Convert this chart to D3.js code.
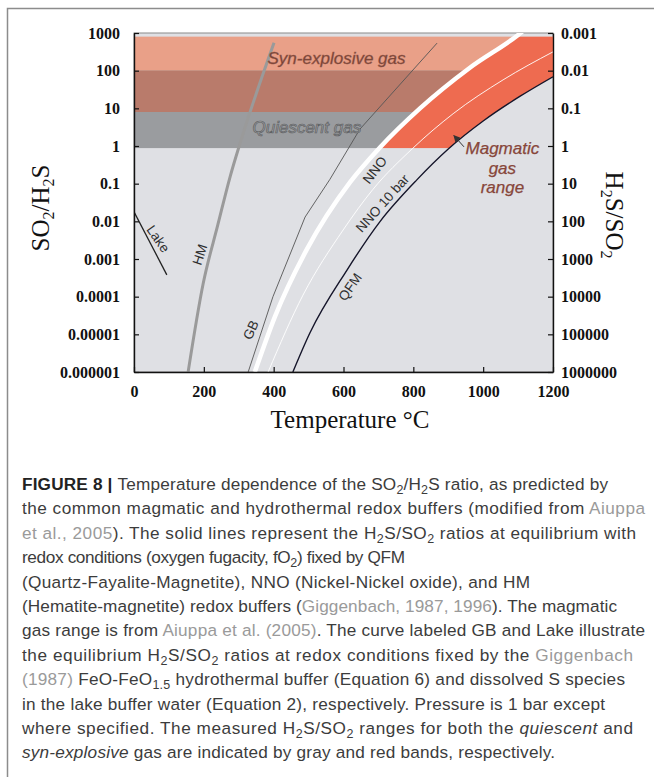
<!DOCTYPE html>
<html>
<head>
<meta charset="utf-8">
<script src="https://cdn.jsdelivr.net/npm/d3@7"></script>
<style>
  body { margin: 0; background: #fff; }
  svg { display: block; }
</style>
</head>
<body>
<div id="chart"></div>
<script>
// ---- data (T in °C, SO2/H2S ratio) ----
const xTicks = [0, 200, 400, 600, 800, 1000, 1200];
const yTicks = [1e-6, 1e-5, 1e-4, 1e-3, 1e-2, 0.1, 1, 10, 100, 1000];
const leftLabels = ["0.000001", "0.00001", "0.0001", "0.001", "0.01", "0.1", "1", "10", "100", "1000"];
const rightLabels = ["1000000", "100000", "10000", "1000", "100", "10", "1", "0.1", "0.01", "0.001"];

const hmCurve = [[155, 1e-6], [198, 2.2e-4], [240, 8e-3], [275, 0.15], [304, 1.2], [401, 550]];
const lakeCurve = [[0, 0.018], [94, 0.00038]];
const gbCurve = [[327, 1e-6], [398, 1e-4], [490, 0.013], [561, 0.13], [647, 2.8], [868, 540]];
const nnoCurve = [[346, 1e-6], [404, 3e-5], [495, 1.8e-3], [619, 0.11], [705, 0.93], [819, 10], [962, 120], [1100, 890], [1130, 1500]];
const nno10Curve = [[384, 1e-6], [484, 1.1e-4], [599, 5.9e-3], [684, 0.07], [799, 0.88], [914, 7.2], [1057, 57], [1200, 316]];
const qfmCurve = [[455, 1e-6], [504, 1.1e-5], [610, 5.1e-4], [705, 0.01], [810, 0.126], [900, 0.83], [1000, 4.6], [1106, 21], [1200, 69]];

const synBand = [8, 800];          // red band
const quiescentBand = [0.88, 100]; // gray band
const magmaticRange = [0.88, 800];

const curveLabels = [
  {text: "NNO", T: 690, r: 0.23, angle: -52},
  {text: "NNO 10 bar", T: 712, r: 0.03, angle: -48},
  {text: "QFM", T: 619, r: 1.8e-4, angle: -55},
  {text: "GB", T: 335, r: 1.3e-5, angle: -65},
  {text: "HM", T: 189, r: 1.3e-3, angle: -72},
  {text: "Lake", T: 69, r: 3.4e-3, angle: 55}
];

const W = 654, H = 777;
const svg = d3.select("#chart").append("svg").attr("width", W).attr("height", H);

// outer frame
svg.append("path")
  .attr("d", "M7.5,777 L7.5,8.5 L654,8.5")
  .attr("fill", "none").attr("stroke", "#8c8c8c").attr("stroke-width", 1.5);

const x = d3.scaleLinear().domain([0, 1200]).range([134, 553]);
const y = d3.scaleLog().domain([1e-6, 1000]).range([372, 33]);
const x0 = x.range()[0], x1 = x.range()[1], yb = y.range()[0], yt = y.range()[1];

const line = d3.line().x(d => x(d[0])).y(d => y(d[1])).curve(d3.curveMonotoneX);
const polyline = d3.line().x(d => x(d[0])).y(d => y(d[1]));

const defs = svg.append("defs");
defs.append("clipPath").attr("id", "plot")
  .append("rect").attr("x", x0).attr("y", yt).attr("width", x1 - x0).attr("height", yb - yt);
// left of NNO
defs.append("clipPath").attr("id", "leftNNO")
  .append("path").attr("d", line(nnoCurve) + `L${x0 - 20},${yt - 20}L${x0 - 20},${yb + 20}Z`);
// right of NNO
defs.append("clipPath").attr("id", "rightNNO")
  .append("path").attr("d", line(nnoCurve) + `L${x1 + 20},${yt - 20}L${x1 + 20},${yb + 20}Z`);
// above QFM
const qLast = qfmCurve[qfmCurve.length - 1];
defs.append("clipPath").attr("id", "aboveQFM")
  .append("path").attr("d", line(qfmCurve) + `L${x1 + 20},${y(qLast[1])}L${x1 + 20},${yt - 20}L${x0 - 20},${yt - 20}L${x0 - 20},${yb + 20}Z`);

// plot background
svg.append("rect")
  .attr("x", x0).attr("y", yt).attr("width", x1 - x0).attr("height", yb - yt)
  .attr("fill", "#dfe0e4").attr("stroke", "#8a8a8a").attr("stroke-width", 1);

// bands
const bands = svg.append("g").attr("clip-path", "url(#leftNNO)");
bands.append("rect")
  .attr("x", x0).attr("width", x1 - x0)
  .attr("y", y(synBand[1])).attr("height", y(synBand[0]) - y(synBand[1]))
  .attr("fill", "#e9a088");
bands.append("rect")
  .attr("x", x0).attr("width", x1 - x0)
  .attr("y", y(quiescentBand[1])).attr("height", y(quiescentBand[0]) - y(quiescentBand[1]))
  .attr("fill", "#9a9c9f");
bands.append("rect")
  .attr("x", x0).attr("width", x1 - x0)
  .attr("y", y(quiescentBand[1])).attr("height", y(synBand[0]) - y(quiescentBand[1]))
  .attr("fill", "#b97b6b");

// magmatic gas range
svg.append("g").attr("clip-path", "url(#rightNNO)")
  .append("g").attr("clip-path", "url(#aboveQFM)")
  .append("rect")
  .attr("x", x0).attr("width", x1 - x0)
  .attr("y", y(magmaticRange[1])).attr("height", y(magmaticRange[0]) - y(magmaticRange[1]))
  .attr("fill", "#ee6b50");

// curves
const curves = svg.append("g").attr("clip-path", "url(#plot)").attr("fill", "none");
curves.append("path").attr("d", line(hmCurve)).attr("stroke", "#9a9a9a").attr("stroke-width", 3);
curves.append("path").attr("d", line(lakeCurve)).attr("stroke", "#222").attr("stroke-width", 1.3);
curves.append("path").attr("d", polyline(gbCurve)).attr("stroke", "#555").attr("stroke-width", 0.9);
curves.append("path").attr("d", line(nnoCurve)).attr("stroke", "#fff").attr("stroke-width", 4.5);
curves.append("path").attr("d", line(nno10Curve)).attr("stroke", "#fff").attr("stroke-width", 0.9);
curves.append("path").attr("d", line(qfmCurve)).attr("stroke", "#15152a").attr("stroke-width", 1.4);

// curve labels
const sans = "Liberation Sans, Arial, sans-serif";
svg.append("g").selectAll("text").data(curveLabels).join("text")
  .attr("transform", d => `translate(${x(d.T)},${y(d.r)}) rotate(${d.angle})`)
  .attr("text-anchor", "middle").attr("dominant-baseline", "central")
  .attr("font-family", sans).attr("font-size", 13.5)
  .attr("fill", "#2e2e2e")
  .text(d => d.text);

// band labels
svg.append("text")
  .attr("x", x(580)).attr("y", y(150))
  .attr("text-anchor", "middle").attr("font-family", sans).attr("font-style", "italic")
  .attr("font-size", 17).attr("fill", "#744236").attr("stroke", "#9a5a4a").attr("stroke-width", 0.4)
  .text("Syn-explosive gas");
svg.append("text")
  .attr("x", x(495)).attr("y", y(2.2))
  .attr("text-anchor", "middle").attr("font-family", sans).attr("font-style", "italic")
  .attr("font-size", 17).attr("fill", "#a1a3a6").attr("stroke", "#5e6062").attr("stroke-width", 0.7)
  .text("Quiescent gas");
const magLines = ["Magmatic", "gas", "range"];
svg.append("g").selectAll("text").data(magLines).join("text")
  .attr("x", x(1055)).attr("y", (d, i) => y(1) + 8 + i * 19.5)
  .attr("text-anchor", "middle").attr("font-family", sans).attr("font-style", "italic")
  .attr("font-size", 17).attr("fill", "#87463a").attr("stroke", "#87463a").attr("stroke-width", 0.25)
  .text(d => d);
// arrow to QFM
defs.append("marker").attr("id", "ah").attr("viewBox", "0 0 10 10").attr("refX", 9).attr("refY", 5)
  .attr("markerWidth", 7).attr("markerHeight", 7).attr("orient", "auto")
  .append("path").attr("d", "M0,0L10,5L0,10Z").attr("fill", "#333");
svg.append("line")
  .attr("x1", x(945)).attr("y1", y(0.95)).attr("x2", x(916)).attr("y2", y(1.9))
  .attr("stroke", "#333").attr("stroke-width", 1).attr("marker-end", "url(#ah)");

// axes
const serif = "Liberation Serif, Times New Roman, serif";
function styleAxis(g) {
  g.select(".domain").attr("stroke", "#111").attr("stroke-width", 1.4);
  g.selectAll(".tick line").attr("stroke", "#111").attr("stroke-width", 1.2);
  g.selectAll(".tick text").attr("font-family", serif).attr("font-weight", "bold")
    .attr("font-size", 16).attr("fill", "#111");
}
svg.append("g").attr("transform", `translate(${x0},0)`)
  .call(d3.axisLeft(y).tickValues(yTicks).tickFormat((d, i) => leftLabels[i]).tickSizeInner(-5).tickSizeOuter(0).tickPadding(14))
  .call(styleAxis);
svg.append("g").attr("transform", `translate(${x1},0)`)
  .call(d3.axisRight(y).tickValues(yTicks).tickFormat((d, i) => rightLabels[i]).tickSizeInner(-5).tickSizeOuter(0).tickPadding(8))
  .call(styleAxis);
svg.append("g").attr("transform", `translate(0,${yb})`)
  .call(d3.axisBottom(x).tickValues(xTicks).tickFormat(d3.format("d")).tickSizeInner(-5).tickSizeOuter(0).tickPadding(14))
  .call(styleAxis);

// writes parts into a text element; subscripts shift down and the next part shifts back
function writeParts(t, parts, subSize, shift) {
  let back = 0;
  parts.forEach(p => {
    const s = t.append("tspan").text(p.t);
    if (p.sub) {
      s.attr("dy", shift + back).attr("font-size", subSize);
      back = -shift;
      return;
    }
    if (back) { s.attr("dy", back); back = 0; }
    if (p.b) s.attr("font-weight", "bold").attr("fill", "#222");
    if (p.ref) s.attr("fill", "#9a9a9a");
    if (p.i) s.attr("font-style", "italic");
  });
}

// axis titles
svg.append("text")
  .attr("x", 350).attr("y", 428).attr("text-anchor", "middle")
  .attr("font-family", serif).attr("font-size", 25).attr("fill", "#111")
  .text("Temperature °C");

const yTitle = svg.append("text")
  .attr("transform", "translate(49,208) rotate(-90)").attr("text-anchor", "middle")
  .attr("font-family", serif).attr("font-size", 25).attr("fill", "#111");
writeParts(yTitle, [{t: "SO"}, {t: "2", sub: true}, {t: "/H"}, {t: "2", sub: true}, {t: "S"}], 16, 5);
const y2Title = svg.append("text")
  .attr("transform", "translate(606,215) rotate(90)").attr("text-anchor", "middle")
  .attr("font-family", serif).attr("font-size", 25).attr("fill", "#111");
writeParts(y2Title, [{t: "H"}, {t: "2", sub: true}, {t: "S/SO"}, {t: "2", sub: true}], 16, 5);

// caption
const captionLines = [
  [{t: "FIGURE 8 | ", b: true}, {t: "Temperature dependence of the SO"}, {t: "2", sub: true}, {t: "/H"}, {t: "2", sub: true}, {t: "S ratio, as predicted by"}],
  [{t: "the common magmatic and hydrothermal redox buffers (modified from "}, {t: "Aiuppa", ref: true}],
  [{t: "et al., 2005", ref: true}, {t: "). The solid lines represent the H"}, {t: "2", sub: true}, {t: "S/SO"}, {t: "2", sub: true}, {t: " ratios at equilibrium with"}],
  [{t: "redox conditions (oxygen fugacity, fO"}, {t: "2", sub: true}, {t: ") fixed by QFM"}],
  [{t: "(Quartz-Fayalite-Magnetite), NNO (Nickel-Nickel oxide), and HM"}],
  [{t: "(Hematite-magnetite) redox buffers ("}, {t: "Giggenbach, 1987, 1996", ref: true}, {t: "). The magmatic"}],
  [{t: "gas range is from "}, {t: "Aiuppa et al. (2005)", ref: true}, {t: ". The curve labeled GB and Lake illustrate"}],
  [{t: "the equilibrium H"}, {t: "2", sub: true}, {t: "S/SO"}, {t: "2", sub: true}, {t: " ratios at redox conditions fixed by the "}, {t: "Giggenbach", ref: true}],
  [{t: "(1987)", ref: true}, {t: " FeO-FeO"}, {t: "1.5", sub: true}, {t: " hydrothermal buffer (Equation 6) and dissolved S species"}],
  [{t: "in the lake buffer water (Equation 2), respectively. Pressure is 1 bar except"}],
  [{t: "where specified. The measured H"}, {t: "2", sub: true}, {t: "S/SO"}, {t: "2", sub: true}, {t: " ranges for both the "}, {t: "quiescent", i: true}, {t: " and"}],
  [{t: "syn-explosive", i: true}, {t: " gas are indicated by gray and red bands, respectively."}]
];
const captionEnds = [608, 645, 636, 405, 530, 617, 645, 633, 625, 605, 633, 555];
const cap = svg.append("g")
  .attr("font-family", sans).attr("font-size", 17.2).attr("fill", "#3c3c3c");
captionLines.forEach((parts, li) => {
  const t = cap.append("text").attr("x", 22).attr("y", 490 + li * 24.4)
    .attr("textLength", captionEnds[li] - 22).attr("lengthAdjust", "spacing");
  writeParts(t, parts, 12.5, 4);
});
</script>
</body>
</html>
